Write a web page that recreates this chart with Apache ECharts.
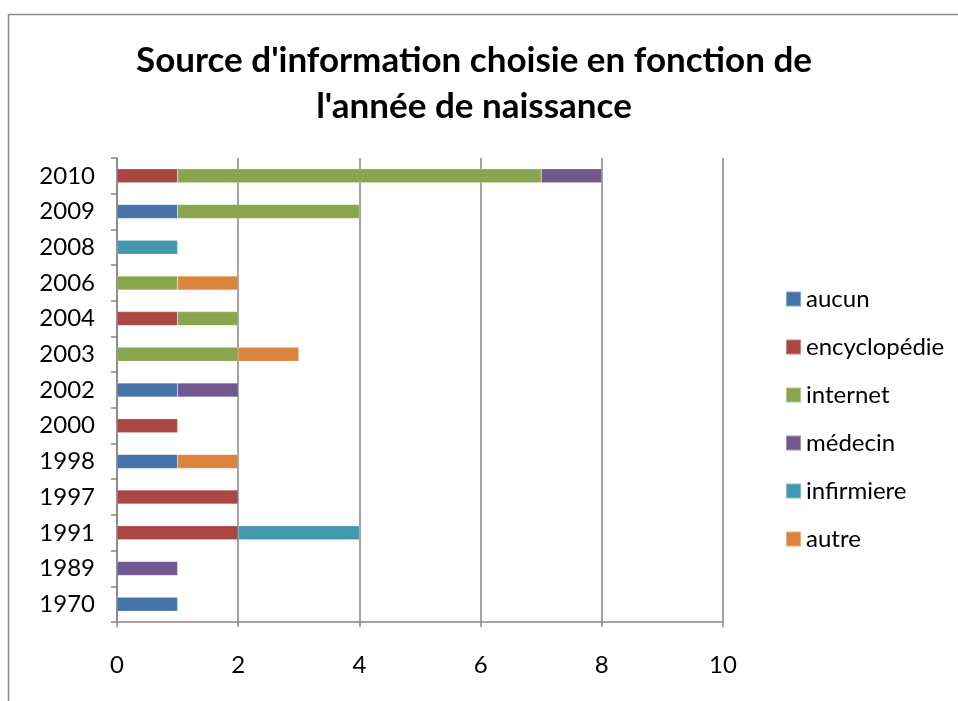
<!DOCTYPE html>
<html>
<head>
<meta charset="utf-8">
<script src="https://cdn.jsdelivr.net/npm/echarts@6/dist/echarts.min.js"></script>
<style>
  html, body { margin: 0; padding: 0; background: #fff; }
  #chart { width: 958px; height: 701px; }
</style>
</head>
<body>
<div id="chart"></div>
<script>
  // années de naissance (du bas vers le haut)
  const annees = ['1970', '1989', '1991', '1997', '1998', '2000', '2002', '2003', '2004', '2006', '2008', '2009', '2010'];

  const aucun        = [1, 0, 0, 0, 1, 0, 1, 0, 0, 0, 0, 1, 0];
  const encyclopedie = [0, 0, 2, 2, 0, 1, 0, 0, 1, 0, 0, 0, 1];
  const internet     = [0, 0, 0, 0, 0, 0, 0, 2, 1, 1, 0, 3, 6];
  const medecin      = [0, 1, 0, 0, 0, 0, 1, 0, 0, 0, 0, 0, 1];
  const infirmiere   = [0, 0, 2, 0, 0, 0, 0, 0, 0, 0, 1, 0, 0];
  const autre        = [0, 0, 0, 0, 1, 0, 0, 1, 0, 1, 0, 0, 0];

  const xTicks = [0, 2, 4, 6, 8, 10];

  const font = 'Lato, "Open Sans", sans-serif';

  let myChart = echarts.init(document.getElementById('chart'));

  function serie(name, data, color) {
    return {
      name: name,
      type: 'bar',
      stack: 'total',
      barWidth: 14,
      data: data.map(v => v === 0 ? null : v),
      itemStyle: { color: color, borderColor: 'rgba(255,255,255,0.35)', borderWidth: 0.5 }
    };
  }

  let option = {
    animation: false,
    backgroundColor: '#fff',
    textStyle: { fontFamily: font },
    title: {
      text: "Source d'information choisie en fonction de\nl'année de naissance",
      left: 469,
      textAlign: 'center',
      top: 33,
      textStyle: { fontFamily: font, fontWeight: 'bold', fontSize: 35, color: '#000', lineHeight: 46 }
    },
    graphic: [
      { type: 'line', shape: { x1: 8.5, y1: 14.5, x2: 960, y2: 14.5 }, style: { stroke: '#888', lineWidth: 1.5 } },
      { type: 'line', shape: { x1: 8.5, y1: 14.5, x2: 8.5, y2: 705 }, style: { stroke: '#888', lineWidth: 1.5 } }
    ],
    legend: {
      orient: 'vertical',
      left: 780,
      top: 282,
      itemWidth: 15,
      itemHeight: 15,
      itemGap: 24,
      icon: 'rect',
      textStyle: { fontFamily: font, fontSize: 24, lineHeight: 24, color: '#000' },
      data: ['aucun', 'encyclopédie', 'internet', 'médecin', 'infirmiere', 'autre']
    },
    grid: { left: 117, right: 235, top: 158, bottom: 79, containLabel: false },
    xAxis: {
      type: 'value',
      min: 0,
      max: 10,
      interval: 2,
      axisLine: { show: true, lineStyle: { color: '#868686', width: 1.5 } },
      axisTick: { show: true, length: 5, lineStyle: { color: '#868686', width: 1.5 } },
      axisLabel: {
        margin: 31, fontSize: 24, color: '#000', fontFamily: font,
        formatter: v => xTicks.includes(v) ? String(v) : ''
      },
      splitLine: { show: true, lineStyle: { color: '#868686', width: 1.5 } }
    },
    yAxis: {
      type: 'category',
      data: annees,
      axisLine: { show: true, lineStyle: { color: '#868686', width: 1.5 } },
      axisTick: { show: true, length: 6, lineStyle: { color: '#868686', width: 1.5 } },
      axisLabel: { margin: 22, fontSize: 24, color: '#000', fontFamily: font },
      splitLine: { show: false }
    },
    series: [
      serie('aucun', aucun, '#4572A7'),
      serie('encyclopédie', encyclopedie, '#AA4643'),
      serie('internet', internet, '#89A54E'),
      serie('médecin', medecin, '#71588F'),
      serie('infirmiere', infirmiere, '#4198AF'),
      serie('autre', autre, '#DB843D')
    ]
  };

  myChart.setOption(option);
</script>
</body>
</html>
